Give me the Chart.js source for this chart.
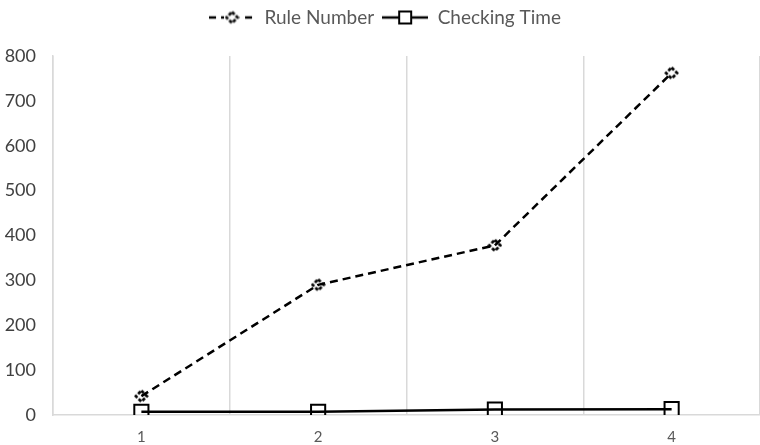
<!DOCTYPE html>
<html>
<head>
<meta charset="utf-8">
<script src="https://cdn.jsdelivr.net/npm/chart.js@4/dist/chart.umd.min.js"></script>
<style>
html,body{margin:0;padding:0;background:#fff;}
#wrap{width:760px;height:445px;}
</style>
</head>
<body>
<div id="wrap"><canvas id="c" width="760" height="445"></canvas></div>
<script>
const categories = ['1', '2', '3', '4'];
const ruleNumber = [42, 290, 378, 762];
const checkingTime = [7, 7, 12, 13];
const yTicks = [0, 100, 200, 300, 400, 500, 600, 700, 800];

function diamondMarker(size) {
  const c = document.createElement('canvas');
  c.width = size; c.height = size;
  const g = c.getContext('2d');
  const m = size / 2, r = size / 2 - 2;
  g.strokeStyle = '#000';
  g.lineWidth = 2.6;
  g.setLineDash([3.5, 1.8]);
  g.beginPath();
  g.moveTo(m, m - r); g.lineTo(m + r, m); g.lineTo(m, m + r); g.lineTo(m - r, m); g.closePath();
  g.stroke();
  return c;
}
function legendImg(kind) {
  const c = document.createElement('canvas');
  c.width = 46; c.height = 16;
  const g = c.getContext('2d');
  g.strokeStyle = '#000';
  g.lineWidth = 2.5;
  if (kind === 'rule') {
    g.setLineDash([7, 5]);
    g.beginPath(); g.moveTo(0, 8); g.lineTo(46, 8); g.stroke();
    g.clearRect(15, 0, 16, 16);
    g.drawImage(diamondMarker(15), 15.5, 0.5);
  } else {
    g.beginPath(); g.moveTo(0, 8); g.lineTo(46, 8); g.stroke();
    g.lineWidth = 2;
    g.clearRect(17, 2, 12, 12);
    g.strokeRect(17, 2, 12, 12);
  }
  return c;
}
const ruleMarker = diamondMarker(15);
const legendRule = legendImg('rule');
const legendCheck = legendImg('check');

const legendMargin = {
  id: 'legendMargin',
  beforeInit(chart) {
    const fit = chart.legend.fit;
    chart.legend.fit = function () { fit.bind(chart.legend)(); this.height += 19; };
  }
};

new Chart(document.getElementById('c'), {
  type: 'line',
  data: {
    labels: categories,
    datasets: [
      {
        label: 'Rule Number',
        data: ruleNumber,
        borderColor: '#000',
        borderWidth: 2.5,
        borderDash: [8, 5],
        pointStyle: ruleMarker,
        pointRadius: 7,
        pointHoverRadius: 7,
        backgroundColor: 'rgba(0,0,0,0)',
        tension: 0
      },
      {
        label: 'Checking Time',
        data: checkingTime,
        borderColor: '#000',
        borderWidth: 2.5,
        pointStyle: 'rect',
        pointRadius: 10,
        pointHoverRadius: 10,
        pointBorderWidth: 2,
        pointBackgroundColor: 'rgba(0,0,0,0)',
        backgroundColor: 'rgba(0,0,0,0)',
        tension: 0
      }
    ]
  },
  options: {
    responsive: false,
    animation: false,
    devicePixelRatio: 1,
    layout: { autoPadding: false, padding: { left: 5, right: -5, top: 0, bottom: 0 } },
    plugins: {
      legend: {
        position: 'top',
        labels: {
          font: { family: 'Lato', size: 19 },
          color: '#595959',
          usePointStyle: true,
          pointStyleWidth: 46,
          padding: 8,
          generateLabels() {
            return [
              { text: 'Rule Number', pointStyle: legendRule, datasetIndex: 0, fontColor: '#595959', lineWidth: 0, strokeStyle: 'rgba(0,0,0,0)', fillStyle: 'rgba(0,0,0,0)' },
              { text: 'Checking Time', pointStyle: legendCheck, datasetIndex: 1, fontColor: '#595959', lineWidth: 0, strokeStyle: 'rgba(0,0,0,0)', fillStyle: 'rgba(0,0,0,0)' }
            ];
          }
        }
      },
      tooltip: { enabled: false }
    },
    scales: {
      x: {
        type: 'category',
        offset: true,
        afterFit(scale) { scale.height = 30; },
        grid: {
          display: true, offset: true, lineWidth: 1.5, drawTicks: false,
          color: ctx => (ctx.index >= categories.length ? 'rgba(0,0,0,0)' : '#d9d9d9')
        },
        border: { display: true, color: '#d9d9d9', width: 1.5 },
        ticks: { font: { family: 'Lato', size: 15 }, color: '#595959', padding: 13 }
      },
      y: {
        min: 0,
        max: 800,
        afterFit(scale) { scale.width = 48; },
        afterBuildTicks(scale) { scale.ticks = yTicks.map(v => ({ value: v })); },
        grid: { display: false, drawTicks: false },
        border: { display: true, color: '#d9d9d9', width: 1.5 },
        ticks: { font: { family: 'Lato', size: 18 }, color: '#404040', padding: 17 }
      }
    }
  },
  plugins: [legendMargin]
});
</script>
</body>
</html>
